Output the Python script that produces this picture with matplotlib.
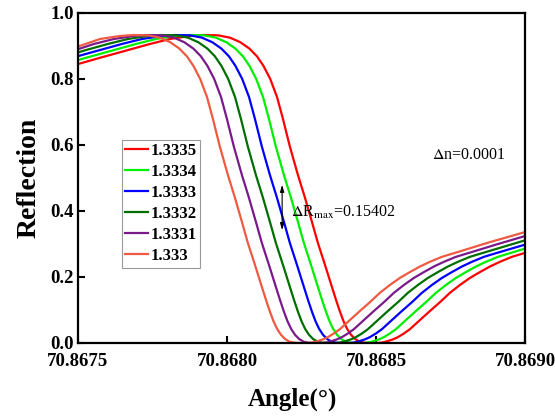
import matplotlib
matplotlib.use("Agg")
import matplotlib.pyplot as plt

plt.rcParams["font.family"] = ["Liberation Serif", "DejaVu Serif"]
plt.rcParams["mathtext.fontset"] = "stix"

# refractive index labels and colours
labels = ["1.3335", "1.3334", "1.3333", "1.3332", "1.3331", "1.333"]
colors = ["#ff0000", "#00ee00", "#0000ff", "#006e00", "#7a1a8a", "#ee5a42"]

# curves (angle in degrees, reflection)
angle_13335 = [70.867500, 70.867574, 70.867658, 70.867742, 70.867809, 70.867876, 70.867920, 70.867970,
               70.868010, 70.868045, 70.868075, 70.868100, 70.868122, 70.868145, 70.868168, 70.868188,
               70.868211, 70.868238, 70.868262, 70.868285, 70.868305, 70.868329, 70.868352, 70.868366,
               70.868379, 70.868391, 70.868403, 70.868416, 70.868430, 70.868445, 70.868460, 70.868480,
               70.868507, 70.868525, 70.868540, 70.868557, 70.868574, 70.868594, 70.868614, 70.868648,
               70.868681, 70.868715, 70.868748, 70.868782, 70.868815, 70.868849, 70.868883, 70.868916,
               70.868956, 70.869000]
refl_13335 = [0.845, 0.864, 0.885, 0.906, 0.921, 0.930, 0.933, 0.932, 0.925, 0.911, 0.892, 0.869, 0.840,
              0.800, 0.745, 0.678, 0.595, 0.509, 0.439, 0.367, 0.303, 0.236, 0.170, 0.130, 0.095, 0.066,
              0.043, 0.025, 0.012, 0.004, 0.001, 0.000, 0.000, 0.002, 0.006, 0.011, 0.018, 0.029, 0.042,
              0.070, 0.097, 0.124, 0.152, 0.176, 0.197, 0.215, 0.232, 0.246, 0.261, 0.273]

angle_13334 = [70.867500, 70.867527, 70.867611, 70.867695, 70.867762, 70.867829, 70.867873, 70.867923,
               70.867963, 70.867998, 70.868028, 70.868053, 70.868075, 70.868098, 70.868121, 70.868141,
               70.868164, 70.868191, 70.868215, 70.868238, 70.868258, 70.868282, 70.868305, 70.868319,
               70.868332, 70.868344, 70.868356, 70.868369, 70.868383, 70.868398, 70.868413, 70.868433,
               70.868460, 70.868478, 70.868493, 70.868510, 70.868527, 70.868547, 70.868567, 70.868601,
               70.868634, 70.868668, 70.868701, 70.868735, 70.868768, 70.868802, 70.868836, 70.868869,
               70.868909, 70.868953, 70.869000]
refl_13334 = [0.857, 0.864, 0.885, 0.906, 0.921, 0.930, 0.933, 0.932, 0.925, 0.911, 0.892, 0.869, 0.840,
              0.800, 0.745, 0.678, 0.595, 0.509, 0.439, 0.367, 0.303, 0.236, 0.170, 0.130, 0.095, 0.066,
              0.043, 0.025, 0.012, 0.004, 0.001, 0.000, 0.000, 0.002, 0.006, 0.011, 0.018, 0.029, 0.042,
              0.070, 0.097, 0.124, 0.152, 0.176, 0.197, 0.215, 0.232, 0.246, 0.261, 0.273, 0.286]

angle_13333 = [70.867500, 70.867564, 70.867648, 70.867715, 70.867782, 70.867826, 70.867876, 70.867916,
               70.867951, 70.867981, 70.868006, 70.868028, 70.868051, 70.868074, 70.868094, 70.868117,
               70.868144, 70.868168, 70.868191, 70.868211, 70.868235, 70.868258, 70.868272, 70.868285,
               70.868297, 70.868309, 70.868322, 70.868336, 70.868351, 70.868366, 70.868386, 70.868413,
               70.868431, 70.868446, 70.868463, 70.868480, 70.868500, 70.868520, 70.868554, 70.868587,
               70.868621, 70.868654, 70.868688, 70.868721, 70.868755, 70.868789, 70.868822, 70.868862,
               70.868906, 70.869000]
refl_13333 = [0.869, 0.885, 0.906, 0.921, 0.930, 0.933, 0.932, 0.925, 0.911, 0.892, 0.869, 0.840,
              0.800, 0.745, 0.678, 0.595, 0.509, 0.439, 0.367, 0.303, 0.236, 0.170, 0.130, 0.095, 0.066,
              0.043, 0.025, 0.012, 0.004, 0.001, 0.000, 0.000, 0.002, 0.006, 0.011, 0.018, 0.029, 0.042,
              0.070, 0.097, 0.124, 0.152, 0.176, 0.197, 0.215, 0.232, 0.246, 0.261, 0.273, 0.298]

angle_13332 = [70.867500, 70.867517, 70.867601, 70.867668, 70.867735, 70.867779, 70.867829, 70.867869,
               70.867904, 70.867934, 70.867959, 70.867981, 70.868004, 70.868027, 70.868047, 70.868070,
               70.868097, 70.868121, 70.868144, 70.868164, 70.868188, 70.868211, 70.868225, 70.868238,
               70.868250, 70.868262, 70.868275, 70.868289, 70.868304, 70.868319, 70.868339, 70.868366,
               70.868384, 70.868399, 70.868416, 70.868433, 70.868453, 70.868473, 70.868507, 70.868540,
               70.868574, 70.868607, 70.868641, 70.868674, 70.868708, 70.868742, 70.868775, 70.868815,
               70.868859, 70.869000]
refl_13332 = [0.880, 0.885, 0.906, 0.921, 0.930, 0.933, 0.932, 0.925, 0.911, 0.892, 0.869, 0.840,
              0.800, 0.745, 0.678, 0.595, 0.509, 0.439, 0.367, 0.303, 0.236, 0.170, 0.130, 0.095, 0.066,
              0.043, 0.025, 0.012, 0.004, 0.001, 0.000, 0.000, 0.002, 0.006, 0.011, 0.018, 0.029, 0.042,
              0.070, 0.097, 0.124, 0.152, 0.176, 0.197, 0.215, 0.232, 0.246, 0.261, 0.273, 0.311]

angle_13331 = [70.867500, 70.867554, 70.867621, 70.867688, 70.867732, 70.867782, 70.867822, 70.867857,
               70.867887, 70.867912, 70.867934, 70.867957, 70.867980, 70.868000, 70.868023, 70.868050,
               70.868074, 70.868097, 70.868117, 70.868141, 70.868164, 70.868178, 70.868191, 70.868203,
               70.868215, 70.868228, 70.868242, 70.868257, 70.868272, 70.868292, 70.868319, 70.868337,
               70.868352, 70.868369, 70.868386, 70.868406, 70.868426, 70.868460, 70.868493, 70.868527,
               70.868560, 70.868594, 70.868627, 70.868661, 70.868695, 70.868728, 70.868768, 70.868812,
               70.868906, 70.869000]
refl_13331 = [0.890, 0.906, 0.921, 0.930, 0.933, 0.932, 0.925, 0.911, 0.892, 0.869, 0.840,
              0.800, 0.745, 0.678, 0.595, 0.509, 0.439, 0.367, 0.303, 0.236, 0.170, 0.130, 0.095, 0.066,
              0.043, 0.025, 0.012, 0.004, 0.001, 0.000, 0.000, 0.002, 0.006, 0.011, 0.018, 0.029, 0.042,
              0.070, 0.097, 0.124, 0.152, 0.176, 0.197, 0.215, 0.232, 0.246, 0.261, 0.273, 0.299, 0.324]

angle_1333 = [70.867500, 70.867574, 70.867641, 70.867685, 70.867735, 70.867775, 70.867810, 70.867840,
              70.867865, 70.867887, 70.867910, 70.867933, 70.867953, 70.867976, 70.868003, 70.868027,
              70.868050, 70.868070, 70.868094, 70.868117, 70.868131, 70.868144, 70.868156, 70.868168,
              70.868181, 70.868195, 70.868210, 70.868225, 70.868245, 70.868272, 70.868290, 70.868305,
              70.868322, 70.868339, 70.868359, 70.868379, 70.868413, 70.868446, 70.868480, 70.868513,
              70.868547, 70.868580, 70.868614, 70.868648, 70.868681, 70.868721, 70.868765, 70.868880,
              70.869000]
refl_1333 = [0.898, 0.921, 0.930, 0.933, 0.932, 0.925, 0.911, 0.892, 0.869, 0.840,
             0.800, 0.745, 0.678, 0.595, 0.509, 0.439, 0.367, 0.303, 0.236, 0.170, 0.130, 0.095, 0.066,
             0.043, 0.025, 0.012, 0.004, 0.001, 0.000, 0.000, 0.002, 0.006, 0.011, 0.018, 0.029, 0.042,
             0.070, 0.097, 0.124, 0.152, 0.176, 0.197, 0.215, 0.232, 0.246, 0.261, 0.273, 0.305, 0.336]

angles = [angle_13335, angle_13334, angle_13333, angle_13332, angle_13331, angle_1333]
refls = [refl_13335, refl_13334, refl_13333, refl_13332, refl_13331, refl_1333]

xticks = [70.8675, 70.8680, 70.8685, 70.8690]
yticks = [0.0, 0.2, 0.4, 0.6, 0.8, 1.0]

fig = plt.figure(figsize=(5.55, 4.16), dpi=100)
ax = fig.add_axes([0.1405, 0.1755, 0.8055, 0.7935])

for a, r, c, lab in zip(angles, refls, colors, labels):
    ax.plot(a, r, color=c, lw=1.6, label=lab, solid_joinstyle="round")

ax.set_xlim(70.8675, 70.8690)
ax.set_ylim(0.0, 1.0)
ax.set_xticks(xticks)
ax.set_xticklabels(["%.4f" % t for t in xticks])
ax.set_yticks(yticks)
ax.set_yticklabels(["%.1f" % t for t in yticks])
ax.tick_params(direction="in", length=5, width=1.5, labelsize=13.5, pad=3)
ax.tick_params(axis="x", pad=7)
for lab in ax.get_xticklabels() + ax.get_yticklabels():
    lab.set_fontweight("bold")
for s in ax.spines.values():
    s.set_linewidth(1.6)

ax.set_xlabel("Angle(\u00b0)", fontsize=18, fontweight="bold")
ax.xaxis.set_label_coords(0.479, -0.135)
ax.set_ylabel("Reflection", fontsize=20, fontweight="bold", labelpad=6)

# delta R arrow and notes
ax.annotate("", xy=(70.868185, 0.479), xytext=(70.868185, 0.342),
            arrowprops=dict(arrowstyle="<|-|>,head_length=0.4,head_width=0.12", color="black", lw=0.8,
                            shrinkA=0, shrinkB=0))
ax.text(70.868215, 0.394, r"$\Delta$R$_{\rm max}$=0.15402", fontsize=11.5, va="center", ha="left")
ax.text(70.868688, 0.570, r"$\Delta$n=0.0001", fontsize=11.5, va="center", ha="left")

leg = ax.legend(loc="upper left", bbox_to_anchor=(0.098, 0.615), borderaxespad=0,
                prop={"weight": "bold", "size": 12}, handlelength=1.4, handletextpad=0.15,
                labelspacing=0.3, borderpad=0.2, fancybox=False, framealpha=1)
leg.get_frame().set_edgecolor("#999999")
leg.get_frame().set_linewidth(0.8)

fig.savefig("out.png", dpi=100)
